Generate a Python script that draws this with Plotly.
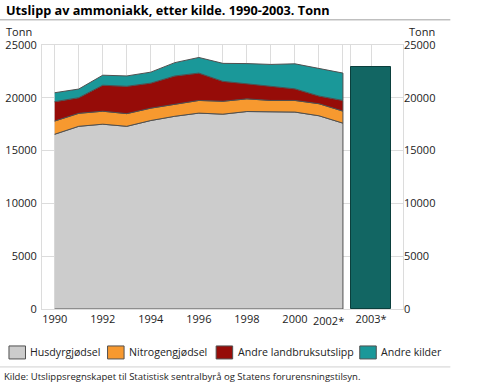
import plotly.graph_objects as go

years = [1990, 1991, 1992, 1993, 1994, 1995, 1996, 1997, 1998, 1999, 2000, 2001, 2002]
husdyr = [16550, 17300, 17500, 17300, 17850, 18250, 18550, 18450, 18700, 18650, 18650, 18300, 17600]
nitro = [1250, 1230, 1230, 1200, 1170, 1170, 1200, 1220, 1200, 1100, 1100, 1140, 1140]
andre_landbruk = [1830, 1480, 2460, 2590, 2370, 2650, 2590, 1890, 1450, 1360, 1100, 730, 1010]
andre_kilder = [850, 820, 950, 980, 1040, 1260, 1480, 1700, 1890, 2050, 2370, 2590, 2590]
total_2003 = [22950]
bar_x = [2003.17]
series_names = ["Husdyrgjødsel", "Nitrogengjødsel", "Andre landbruksutslipp", "Andre kilder"]
colors = ["#cccccc", "#f7992f", "#960c08", "#1a9899"]
tick_vals = years + [2002.33, 2003.17]
tick_text = ["1990", "", "1992", "", "1994", "", "1996", "", "1998", "", "2000", "", "", "", "2003*"]

FONT = "Open Sans"
W_FIG, H_FIG = 485, 383
L, R, T, B = 42, 402.7, 44.7, 309.0
PW, PH = R - L, B - T

def px(x):
    return (x - L) / PW

def py(y):
    return (B - y) / PH

fig = go.Figure()

layers = [husdyr, nitro, andre_landbruk, andre_kilder]
bottom = [0] * len(years)
for name, vals, col in zip(series_names, layers, colors):
    top = [b + v for b, v in zip(bottom, vals)]
    fig.add_trace(go.Scatter(
        x=years + years[::-1],
        y=top + bottom[::-1],
        fill="toself", fillcolor=col, mode="lines",
        line=dict(color="#505050", width=1),
        name=name, hoverinfo="skip", showlegend=False,
    ))
    bottom = top

fig.add_trace(go.Bar(
    x=bar_x, y=total_2003, width=1.654, yaxis="y2",
    marker=dict(color="#126663", line=dict(color="#0b3f3d", width=1)),
    showlegend=False,
))

grid = "#dcdcdc"
fig.update_layout(
    width=W_FIG, height=H_FIG,
    margin=dict(l=L, r=W_FIG - R, t=T, b=H_FIG - B, pad=0, autoexpand=False),
    paper_bgcolor="white", plot_bgcolor="white",
    font=dict(family=FONT, size=11, color="#222222"),
    showlegend=False,
    xaxis=dict(range=[1989.47, 2004.5], tickvals=tick_vals, ticktext=tick_text,
               tickangle=0, automargin=False,
               showgrid=True, gridcolor=grid, gridwidth=1, zeroline=False,
               showline=True, linecolor=grid, mirror=True, ticks="",
               tickfont=dict(size=11)),
    yaxis=dict(range=[0, 25000], dtick=5000, tickformat="d", showgrid=True, gridcolor=grid,
               zeroline=False, showline=True, linecolor=grid, mirror=True, automargin=False,
               ticks="", ticklabelstandoff=2, tickfont=dict(size=11)),
    yaxis2=dict(range=[0, 25000], dtick=5000, tickformat="d", overlaying="y", side="right",
                showgrid=False, zeroline=False, ticks="", automargin=False,
                tickfont=dict(size=11)),
    bargap=0,
)

annotations = [
    dict(text="<b>Utslipp av ammoniakk, etter kilde. 1990-2003. Tonn</b>",
         x=px(4), y=py(10), xanchor="left", yanchor="middle",
         font=dict(size=12.7, family=FONT, color="#000000")),
    dict(text="Tonn", x=px(4), y=py(31.5), xanchor="left", yanchor="middle",
         font=dict(size=11, family=FONT)),
    dict(text="Tonn", x=px(406.5), y=py(31.5), xanchor="left", yanchor="middle",
         font=dict(size=11, family=FONT)),
    dict(text="Kilde: Utslippsregnskapet til Statistisk sentralbyrå og Statens forurensningstilsyn.",
         x=px(2), y=py(377), xanchor="left", yanchor="middle",
         font=dict(size=9.5, family=FONT)),
    dict(text="2002*", x=px(346), y=py(320.5), xanchor="right", yanchor="middle",
         font=dict(size=11, family=FONT)),
]

shapes = [
    dict(type="line", xref="paper", yref="paper", x0=px(0), x1=px(450), y0=py(19.5), y1=py(19.5),
         line=dict(color="#a0a0a0", width=1)),
    dict(type="line", xref="paper", yref="paper", x0=px(0), x1=px(450), y0=py(367), y1=py(367),
         line=dict(color="#d0d0d0", width=1)),
]

# manual legend
legend_box_x = [9, 107.5, 216, 359.5]
for name, col, bx in zip(series_names, colors, legend_box_x):
    shapes.append(dict(type="rect", xref="paper", yref="paper",
                       x0=px(bx), x1=px(bx + 16.5), y0=py(346), y1=py(359),
                       fillcolor=col, line=dict(color="#505050", width=1)))
    annotations.append(dict(text=name, x=px(bx + 19.5), y=py(352.5), xanchor="left",
                            yanchor="middle", font=dict(size=10.6, family=FONT)))

for a in annotations:
    a.update(xref="paper", yref="paper", showarrow=False)
fig.update_layout(annotations=annotations, shapes=shapes)

fig.write_html("out.html", config={"displayModeBar": False},
               post_script="document.body.style.margin='0px';")
